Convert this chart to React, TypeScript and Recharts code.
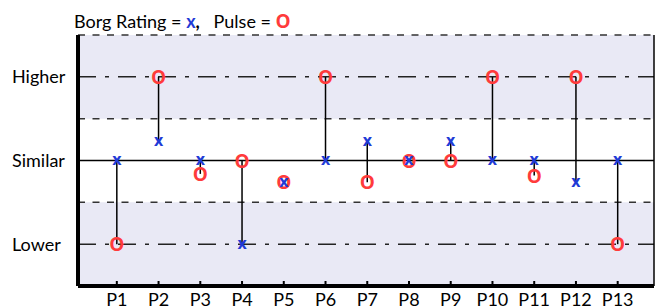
import { ScatterChart, Scatter, XAxis, YAxis, ReferenceArea, ReferenceLine } from "recharts";

const participants = ["P1", "P2", "P3", "P4", "P5", "P6", "P7", "P8", "P9", "P10", "P11", "P12", "P13"];
const positions = [1, 2, 3, 4, 5, 6, 7, 8, 9, 10, 11, 12, 13];
// -1 = Lower, 0 = Similar, 1 = Higher
const borg = [0, 0.23, 0, -1, -0.26, 0, 0.23, 0, 0.23, 0, 0, -0.26, 0];
const pulse = [-1, 1, -0.16, 0, -0.26, 1, -0.26, 0, 0, 1, -0.18, 1, -1];
const levelTicks = [-1, 0, 1];
const levelLabels: Record<number, string> = { [-1]: "Lower", 0: "Similar", 1: "Higher" };

const BLUE = "#1f3bd6";
const RED = "#ff3b3b";
const BAND = "#e9e9f5";
const FONT = "Lato, 'Open Sans', sans-serif";
const MARK_FONT = "'Open Sans', sans-serif";

const borgData = positions.map((x, i) => ({ x, y: borg[i] }));
const pulseData = positions.map((x, i) => ({ x, y: pulse[i] }));
const pairs = positions.map((x, i) => [
  { x, y: borg[i] },
  { x, y: pulse[i] },
]);

const Cross = (props: any) => (
  <text x={props.cx} y={props.cy + 4.5} textAnchor="middle" fontFamily={MARK_FONT} fontWeight={700}
    fontSize={16} fill={BLUE}>x</text>
);

const Ring = (props: any) => (
  <text x={props.cx} y={props.cy + 7} textAnchor="middle" fontFamily={MARK_FONT} fontWeight={700}
    fontSize={19} fill={RED}>O</text>
);

const XTick = (props: any) => {
  const { x, y, payload } = props;
  return (
    <g>
      <line x1={x} x2={x} y1={y - 5} y2={y} stroke="#000" strokeWidth={2} />
      <text x={x} y={y + 20} textAnchor="middle" fontFamily={FONT} fontSize={18} fill="#000">
        {participants[payload.value - 1]}
      </text>
    </g>
  );
};

const YTick = (props: any) => {
  const { y, payload } = props;
  return (
    <text x={12} y={y + 6.5} textAnchor="start" fontFamily={FONT} fontSize={18} fill="#000">
      {levelLabels[payload.value]}
    </text>
  );
};

export default function App() {
  return (
    <div style={{ position: "absolute", left: 0, top: 0, width: 657, height: 308, background: "#fff" }}>
      <div style={{ position: "absolute", left: 74, top: 8, fontFamily: FONT, fontSize: 18, whiteSpace: "pre" }}>
        Borg Rating = <b style={{ color: BLUE }}>x</b><b>,</b>{"   "}Pulse = <span style={{ color: RED, fontFamily: MARK_FONT, fontWeight: 700, fontSize: 19 }}>O</span>
      </div>
      <ScatterChart width={657} height={308} margin={{ top: 35, right: 3, bottom: 0, left: 0 }}>
        <ReferenceArea y1={0.5} y2={1.5} fill={BAND} fillOpacity={1} stroke="none" />
        <ReferenceArea y1={-1.5} y2={-0.5} fill={BAND} fillOpacity={1} stroke="none" />
        <ReferenceLine y={1.5} stroke="#333" strokeWidth={1.5} strokeDasharray="7 7.5" />
        <ReferenceLine y={0.5} stroke="#333" strokeWidth={1.5} strokeDasharray="7 7.5" />
        <ReferenceLine y={-0.5} stroke="#333" strokeWidth={1.5} strokeDasharray="7 7.5" />
        <ReferenceLine y={1} stroke="#222" strokeWidth={1.5} strokeDasharray="18 9 4 9" />
        <ReferenceLine y={-1} stroke="#222" strokeWidth={1.5} strokeDasharray="18 9 4 9" />
        <ReferenceLine y={0} stroke="#000" strokeWidth={1.5} />
        <ReferenceLine x={13.87} stroke="#000" strokeWidth={1.5} />
        <XAxis type="number" dataKey="x" domain={[0.07, 13.87]} ticks={positions} height={22}
          axisLine={{ stroke: "#000", strokeWidth: 4 }} tickLine={false} tickSize={0} tickMargin={0}
          tick={<XTick />} interval={0} allowDataOverflow />
        <YAxis type="number" dataKey="y" domain={[-1.5, 1.5]} ticks={levelTicks} width={78}
          axisLine={{ stroke: "#000", strokeWidth: 4 }} tickLine={false} tickSize={0} tickMargin={0}
          tick={<YTick />} interval={0} allowDataOverflow />
        {pairs.map((pair, i) => (
          <Scatter key={participants[i]} data={pair} line={{ stroke: "#000", strokeWidth: 1.5 }}
            shape={() => <g />} isAnimationActive={false} />
        ))}
        <Scatter data={pulseData} shape={<Ring />} isAnimationActive={false} />
        <Scatter data={borgData} shape={<Cross />} isAnimationActive={false} />
      </ScatterChart>
    </div>
  );
}
